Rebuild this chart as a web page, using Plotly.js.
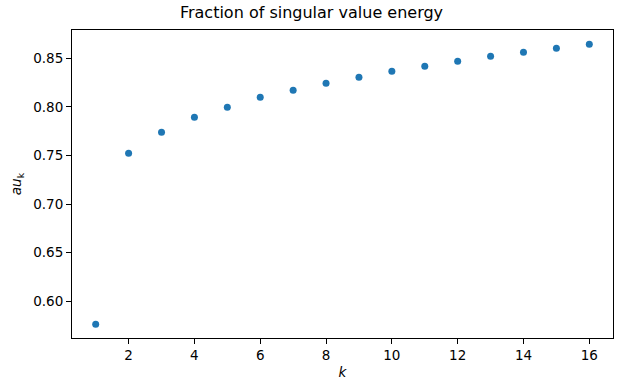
<!DOCTYPE html>
<html>
<head>
<meta charset="utf-8">
<script src="https://cdn.plot.ly/plotly-3.0.1.min.js"></script>
<style>html,body{margin:0;padding:0;background:#fff;}#chart{width:623px;height:392px;}</style>
</head>
<body>
<div id="chart"></div>
<script>
const kValues = [1,2,3,4,5,6,7,8,9,10,11,12,13,14,15,16];
const tauValues = [0.5763,0.7523,0.7739,0.7893,0.7996,0.8099,0.8171,0.8243,0.8305,0.8366,0.8418,0.8469,0.8521,0.8562,0.8603,0.8644];
const xTicks = [2,4,6,8,10,12,14,16];
const yTicks = [0.60,0.65,0.70,0.75,0.80,0.85];

const font = "DejaVu Sans, sans-serif";
const axisCommon = {
  showgrid:false, zeroline:false, showline:true, mirror:true,
  linecolor:'#000', linewidth:1, ticks:'outside', ticklen:5, tickwidth:1, tickcolor:'#000',
  tickfont:{family:font, size:13.5, color:'#000'}
};
Plotly.newPlot('chart', [{
  x:kValues, y:tauValues, type:'scatter', mode:'markers',
  marker:{color:'#1f77b4', size:7}
}], {
  width:623, height:392,
  margin:{l:72, r:10, t:30, b:54},
  paper_bgcolor:'#fff', plot_bgcolor:'#fff',
  showlegend:false,
  title:{text:'Fraction of singular value energy', font:{family:font, size:16, color:'#000'}, x:0.5, xanchor:'center', y:1, yanchor:'top', pad:{t:7}},
  xaxis:Object.assign({}, axisCommon, {range:[0.28,16.72], tickvals:xTicks, ticktext:xTicks.map(String),
    title:{text:'<i>k</i>', font:{family:font, size:13.5, color:'#000'}, standoff:5}}),
  yaxis:Object.assign({}, axisCommon, {range:[0.5622,0.8791], tickvals:yTicks, ticktext:yTicks.map(v=>v.toFixed(2)),
    title:{text:'<i>au</i><sub>k</sub>', font:{family:font, size:13.5, color:'#000'}, standoff:8}})
}, {staticPlot:true});
</script>
</body>
</html>
